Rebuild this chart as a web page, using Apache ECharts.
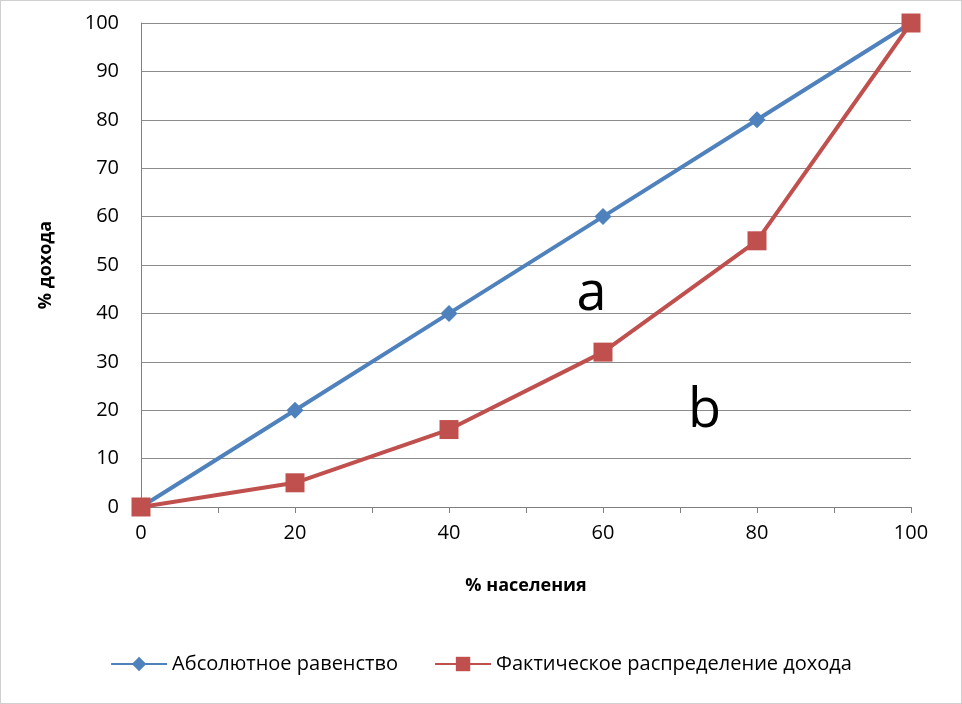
<!DOCTYPE html><html><head><meta charset="utf-8"><script src="https://cdn.jsdelivr.net/npm/echarts@6/dist/echarts.min.js"></script>
<style>html,body{margin:0;background:#fff}#c{width:960px;height:702px;border:1px solid #d0d0d0}</style></head><body><div id="c"></div><script>
const population=[0,20,40,60,80,100];
const equality=[0,20,40,60,80,100];
const actual=[0,5,16,32,55,100];
const yTicks=[0,10,20,30,40,50,60,70,80,90,100];
const notes=[{t:'a',x:58.5,y:43.8},{t:'b',x:73.2,y:19.8}];
const ch=echarts.init(document.getElementById('c'));
const font='"Open Sans","DejaVu Sans",sans-serif';
ch.setOption({animation:false,
grid:{left:140,right:50,top:22,bottom:196},
legend:{bottom:24,left:'center',itemGap:36,itemWidth:56,itemHeight:18,textStyle:{fontSize:20,color:'#000',fontFamily:font},data:['Абсолютное равенство','Фактическое распределение дохода']},
xAxis:{type:'value',min:0,max:100,interval:10,name:'% населения',nameLocation:'middle',nameGap:70,nameTextStyle:{fontSize:18,fontWeight:'bold',color:'#000',fontFamily:font},
axisLine:{lineStyle:{color:'#808080'}},axisTick:{show:true,length:6,inside:false,lineStyle:{color:'#808080'}},splitLine:{show:false},
axisLabel:{fontSize:20,color:'#000',margin:16,fontFamily:font,formatter:v=>v%20===0?String(v):''}},
yAxis:{type:'value',min:0,max:100,interval:10,name:'% дохода',nameLocation:'middle',nameGap:86,nameTextStyle:{fontSize:18,fontWeight:'bold',color:'#000',fontFamily:font},
axisLine:{show:true,lineStyle:{color:'#808080'}},axisTick:{show:false},splitLine:{lineStyle:{color:'#8c8c8c'}},
axisLabel:{fontSize:20,color:'#000',margin:22,fontFamily:font}},
series:[
{name:'Абсолютное равенство',type:'line',data:population.map((x,i)=>[x,equality[i]]),symbol:'diamond',symbolSize:17,lineStyle:{width:4,color:'#4f81bd'},itemStyle:{color:'#4f81bd'},z:2},
{name:'Фактическое распределение дохода',type:'line',data:population.map((x,i)=>[x,actual[i]]),symbol:'rect',symbolSize:19,lineStyle:{width:4,color:'#c0504d'},itemStyle:{color:'#c0504d'},z:3}
]});
ch.setOption({graphic:notes.map(n=>{const p=ch.convertToPixel({gridIndex:0},[n.x,n.y]);return {type:'text',x:p[0],y:p[1],style:{text:n.t,fontSize:54,fill:'#000',fontFamily:font,align:'center',verticalAlign:'middle'}};})});
</script></body></html>
